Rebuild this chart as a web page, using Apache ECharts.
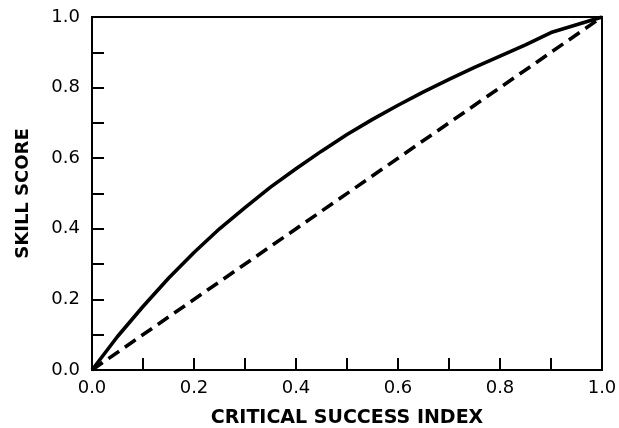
<!DOCTYPE html>
<html>
<head>
<meta charset="utf-8">
<script src="https://cdn.jsdelivr.net/npm/echarts@6/dist/echarts.min.js"></script>
<style>html,body{margin:0;padding:0;background:#fff;}#c{width:619px;height:428px;}</style>
</head>
<body>
<div id="c"></div>
<script>
var csi = [0, 0.05, 0.1, 0.15, 0.2, 0.25, 0.3, 0.35, 0.4, 0.45, 0.5, 0.55, 0.6, 0.65, 0.7, 0.75, 0.8, 0.85, 0.9, 1.0];
var skillSolid = [0, 0.095, 0.18, 0.26, 0.333, 0.40, 0.46, 0.518, 0.57, 0.62, 0.667, 0.71, 0.75, 0.788, 0.823, 0.857, 0.889, 0.921, 0.956, 1.0];
var diagX = [0, 1];
var diagY = [0, 1];
var xTitle = 'CRITICAL SUCCESS INDEX';
var yTitle = 'SKILL SCORE';

function pairs(xs, ys) { return xs.map(function (x, i) { return [x, ys[i]]; }); }
function fmt(v) { var k = Math.round(v * 10); return k % 2 === 0 ? (k / 10).toFixed(1) : ''; }

var chart = echarts.init(document.getElementById('c'), null, {renderer: 'canvas'});
chart.setOption({
  animation: false,
  backgroundColor: '#fff',
  grid: {left: 92, right: 17, top: 17, bottom: 58, containLabel: false, outerBoundsMode: 'none', show: true, borderColor: '#000', borderWidth: 2, backgroundColor: 'transparent'},
  xAxis: {
    type: 'value', min: 0, max: 1, interval: 0.1,
    name: xTitle, nameLocation: 'middle', nameGap: 39,
    nameTextStyle: {fontFamily: 'DejaVu Sans', fontWeight: 'bold', fontSize: 19, color: '#000'},
    axisLine: {show: true, lineStyle: {color: '#000', width: 2}},
    axisTick: {show: true, inside: true, length: 12, lineStyle: {color: '#000', width: 2}},
    axisLabel: {formatter: fmt, fontFamily: 'DejaVu Sans', fontSize: 18, color: '#000', margin: 9},
    splitLine: {show: false}
  },
  yAxis: {
    type: 'value', min: 0, max: 1, interval: 0.1,
    name: yTitle, nameLocation: 'middle', nameGap: 60, nameRotate: 90,
    nameTextStyle: {fontFamily: 'DejaVu Sans', fontWeight: 'bold', fontSize: 18, color: '#000'},
    axisLine: {show: true, lineStyle: {color: '#000', width: 2}},
    axisTick: {show: true, inside: true, length: 12, lineStyle: {color: '#000', width: 2}},
    axisLabel: {formatter: fmt, fontFamily: 'DejaVu Sans', fontSize: 18, color: '#000', margin: 12},
    splitLine: {show: false}
  },
  series: [
    {type: 'line', data: pairs(csi, skillSolid), smooth: false, showSymbol: false, lineStyle: {color: '#000', width: 3.6}},
    {type: 'line', data: pairs(diagX, diagY), showSymbol: false, lineStyle: {color: '#000', width: 3.6, type: [13, 7]}}
  ]
});
</script>
</body>
</html>
